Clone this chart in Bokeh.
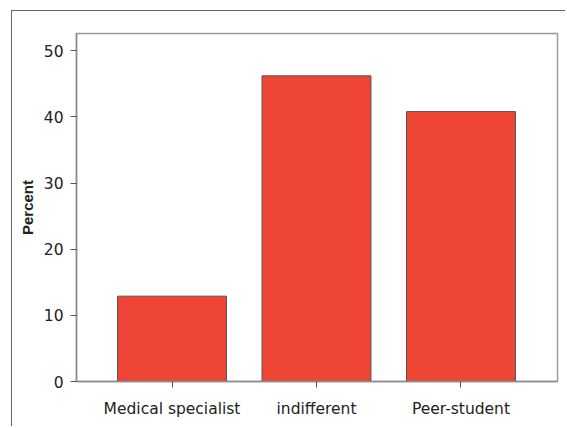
from bokeh.plotting import figure
from bokeh.models import Range1d, FixedTicker, ColumnDataSource
from bokeh.embed import file_html
from bokeh.resources import INLINE

categories = ["Medical specialist", "indifferent", "Peer-student"]
percent = [12.9, 46.2, 40.8]
y_ticks = [0, 10, 20, 30, 40, 50]

xs = list(range(1, len(categories) + 1))
src = ColumnDataSource(dict(x=xs, top=percent))

p = figure(width=554, height=416, output_backend="svg", toolbar_location=None,
           x_range=Range1d(0.339, 3.668), y_range=Range1d(0, 52.6),
           min_border_left=64, min_border_right=9, min_border_top=22, min_border_bottom=46)
p.styles = {"border-left": "1.5px solid #666", "border-top": "1.5px solid #666",
            "margin-left": "11px", "margin-top": "10px"}

p.vbar(x="x", top="top", width=0.754, bottom=0, source=src,
       fill_color="#EE4534", line_color="#555555", line_width=1)

p.xgrid.visible = False
p.ygrid.visible = False
p.outline_line_color = "#9a9a9a"
p.outline_line_width = 1.5

p.xaxis.ticker = FixedTicker(ticks=xs)
p.xaxis.major_label_overrides = {i: c for i, c in zip(xs, categories)}
p.yaxis.ticker = FixedTicker(ticks=y_ticks)

for ax in (p.xaxis[0], p.yaxis[0]):
    ax.axis_line_color = "#8a8a8a"
    ax.axis_line_width = 1.5
    ax.major_tick_line_color = "#555555"
    ax.major_tick_out = 6
    ax.major_tick_in = 0
    ax.minor_tick_line_color = None
    ax.major_label_text_font = "DejaVu Sans"
    ax.major_label_text_font_size = "15.5px"
    ax.major_label_text_color = "#222222"

p.xaxis.major_label_standoff = 12
p.yaxis.major_label_standoff = 7
p.yaxis.axis_label = "Percent"
p.yaxis.axis_label_text_font = "Liberation Sans"
p.yaxis.axis_label_text_font_style = "bold"
p.yaxis.axis_label_text_font_size = "15px"
p.yaxis.axis_label_text_color = "#222222"
p.yaxis.axis_label_standoff = 5

open("out.html", "w").write(file_html(p, INLINE))
